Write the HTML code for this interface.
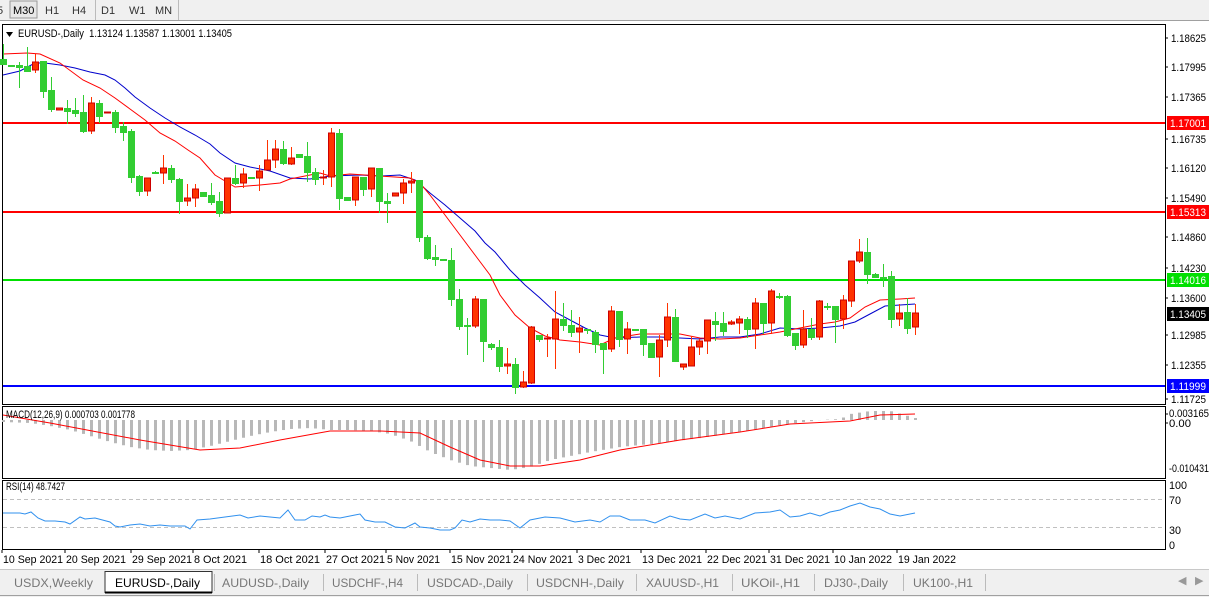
<!DOCTYPE html>
<html><head><meta charset="utf-8"><style>
body{margin:0;width:1209px;height:597px;overflow:hidden;background:#fff;font-family:"Liberation Sans",sans-serif}
svg{display:block}
</style></head><body>
<svg id="s" width="1209" height="597" xmlns="http://www.w3.org/2000/svg" font-family="Liberation Sans, sans-serif" font-size="11">
<rect x="0" y="0" width="1209" height="20" fill="#f0f0f0"/>
<line x1="0" y1="20.5" x2="1209" y2="20.5" stroke="#a0a0a0"/>
<text x="-3" y="14" fill="#333">5</text>
<rect x="10" y="1" width="27" height="17" fill="#e8e8e8" stroke="#999"/>
<text x="13" y="14" fill="#000">M30</text>
<text x="45" y="14" fill="#333">H1</text>
<text x="72" y="14" fill="#333">H4</text>
<line x1="95.5" y1="0" x2="95.5" y2="20" stroke="#bbb"/>
<text x="101" y="14" fill="#333">D1</text>
<text x="129" y="14" fill="#333">W1</text>
<text x="155" y="14" fill="#333">MN</text>
<line x1="178.5" y1="0" x2="178.5" y2="20" stroke="#bbb"/>
<g id="g"></g>
</svg>
<script>
const g=document.getElementById('g');let h='';
function L(x1,y1,x2,y2,c,w){h+=`<line x1="${x1}" y1="${y1}" x2="${x2}" y2="${y2}" stroke="${c}" stroke-width="${w||1}"/>`}
function T(x,y,t,c,a,tl){h+=`<text x="${x}" y="${y}" fill="${c||'#000'}"${a?' text-anchor="'+a+'"':''}${tl?' textLength="'+tl+'" lengthAdjust="spacingAndGlyphs"':''}>${t}</text>`}
h+='<rect x="2.5" y="24.5" width="1163" height="380" fill="#fff" stroke="#000"/>';
h+='<rect x="2.5" y="406.5" width="1163" height="72" fill="#fff" stroke="#000"/>';
h+='<rect x="2.5" y="480.5" width="1163" height="69" fill="#fff" stroke="#000"/>';
L(3,123,1165,123,'#ff0000',2);L(3,212,1165,212,'#ff0000',2);L(3,280,1165,280,'#00e000',2);L(3,386,1165,386,'#0000ff',2);
const lab=[[38,'1.18625'],[67,'1.17995'],[97,'1.17365'],[139,'1.16735'],[168,'1.16120'],[198,'1.15490'],[237,'1.14860'],[268,'1.14230'],[298,'1.13600'],[335,'1.12985'],[365,'1.12355'],[399,'1.11725']];
lab.forEach(a=>{L(1165,a[0],1168,a[0],'#000');T(1171,a[0]+4,a[1],'#000',0,35)});
[[123,'1.17001','#ff0000','#fff'],[212,'1.15313','#ff0000','#fff'],[280,'1.14016','#00e000','#fff'],[314,'1.13405','#000','#fff'],[386,'1.11999','#0000ff','#fff']].forEach(a=>{h+=`<rect x="1167" y="${a[0]-7}" width="42" height="14" fill="${a[2]}"/>`;T(1170,a[0]+4,a[1],a[3],0,36)});
T(18,37,'EURUSD-,Daily&#160;&#160;1.13124 1.13587 1.13001 1.13405','#000',0,214);
h+='<path d="M6 32 L13 32 L9.5 37Z" fill="#000"/>';
const red=[[3,54],[27,53],[40,54],[60,63],[83,80],[100,88],[115,98],[130,109],[145,120],[160,133],[175,141],[188,150],[200,158],[215,175],[225,181],[235,187],[260,185],[280,183],[290,179],[305,176],[320,173],[330,176],[340,175],[350,174],[365,175],[380,176],[395,177],[410,178],[420,183],[430,195],[445,215],[460,235],[475,255],[490,275],[500,295],[515,315],[530,328],[545,336],[560,340],[580,342],[600,345],[615,338],[640,334],[660,334],[680,334],[700,338],[720,339],[740,338],[760,335],[780,332],[800,328],[820,324],[835,322],[850,318],[865,307],[880,300],[900,299],[915,298]];
const blue=[[3,75],[20,71],[35,63],[45,63],[60,65],[75,68],[90,72],[105,75],[115,80],[125,88],[135,97],[150,108],[165,118],[180,127],[195,135],[210,144],[220,153],[235,163],[250,167],[270,171],[290,178],[310,179],[330,176],[360,175],[380,176],[400,175],[415,180],[430,193],[445,205],[460,218],[475,231],[485,243],[495,252],[510,270],[525,285],[540,298],[555,312],[570,320],[585,328],[600,335],[615,338],[640,337],[660,337],[680,338],[700,339],[720,337],[740,337],[760,334],[780,328],[800,329],[820,328],[840,326],[855,322],[870,314],[885,306],[900,305],[915,304]];
function P(a,c,w){h+=`<polyline points="${a.map(p=>p.join(',')).join(' ')}" fill="none" stroke="${c}" stroke-width="${w||1}"/>`}
P(blue,'#0000cc');P(red,'#ff0000');
const C=[[44,59,64,64,'G'],[65,65,66,66,'G'],[62,65,67,88,'G'],[47,66,71,71,'G'],[54,62,70,73,'R'],[61,61,91,98,'G'],[77,90,109,112,'G'],[108,108,110,110,'R'],[100,108,111,124,'G'],[98,110,113,117,'G'],[95,112,131,133,'G'],[97,103,131,134,'R'],[100,103,116,123,'G'],[112,112,113,113,'R'],[110,112,127,133,'G'],[122,126,132,141,'G'],[129,131,177,183,'G'],[175,176,191,196,'G'],[178,178,191,196,'R'],[171,172,173,174,'G'],[155,168,173,184,'R'],[165,168,179,183,'G'],[178,179,201,214,'G'],[184,198,201,206,'R'],[184,189,198,207,'R'],[192,192,196,197,'G'],[183,195,202,205,'G'],[192,201,213,217,'G'],[178,178,213,213,'R'],[165,178,183,185,'G'],[168,174,183,188,'R'],[177,177,178,178,'G'],[165,171,178,191,'R'],[140,160,170,170,'R'],[140,149,160,168,'R'],[141,149,163,165,'G'],[147,158,164,165,'R'],[154,154,157,158,'G'],[142,156,172,182,'G'],[168,172,179,185,'G'],[170,177,178,185,'R'],[128,133,177,187,'R'],[129,133,198,210,'G'],[197,197,200,200,'G'],[177,177,200,206,'R'],[177,177,189,196,'G'],[168,168,189,197,'R'],[168,168,201,213,'G'],[193,201,203,223,'G'],[193,193,196,196,'R'],[179,183,193,204,'R'],[172,181,183,193,'R'],[180,180,237,242,'G'],[235,237,258,260,'G'],[245,257,259,266,'G'],[259,259,260,260,'G'],
[248,260,299,306,'G'],[289,299,326,330,'G'],[318,325,326,355,'G'],[296,299,326,328,'R'],[299,299,341,362,'G'],[343,344,347,350,'G'],[340,347,366,372,'G'],[348,364,366,374,'R'],[358,364,387,394,'G'],[371,382,387,388,'R'],[326,327,383,384,'R'],[335,335,339,342,'G'],[334,338,339,357,'R'],[291,319,339,369,'R'],[303,319,325,331,'G'],[310,325,332,337,'G'],[317,328,332,353,'R'],[329,329,330,334,'G'],[330,332,344,353,'G'],[343,343,349,374,'G'],[306,311,349,352,'R'],[311,311,339,347,'G'],[322,329,339,354,'R'],[329,329,330,330,'G'],[330,329,344,356,'G'],[343,343,357,358,'G'],[335,340,357,377,'R'],[303,317,340,347,'R'],[309,317,361,361,'G'],[364,364,367,370,'R'],[336,347,366,366,'R'],[339,341,347,355,'R'],[321,320,341,354,'R'],[312,321,324,341,'G'],[312,323,331,336,'G'],[320,322,324,325,'R'],[316,319,323,334,'R'],[317,319,329,338,'G'],[298,303,329,349,'R'],[303,303,323,334,'G'],[289,291,323,334,'R'],[293,296,297,299,'G'],[295,296,335,337,'G'],[333,333,345,350,'G'],[310,329,345,348,'R'],[318,329,337,340,'G'],[300,301,337,340,'R'],[303,306,307,310,'G'],[306,306,319,343,'G'],[295,300,319,329,'R'],[261,261,301,307,'R'],[239,252,261,263,'R'],[238,252,274,284,'G'],[273,274,277,278,'G'],[264,277,278,287,'G'],[271,276,319,328,'G'],[304,313,319,326,'R'],[298,312,328,334,'G'],[304,313,327,335,'R']];
C.forEach((c,i)=>{const x=3+i*8;const col=c[4]=='G'?'#32cd32':'#ff3300';
L(x+.5,c[0],x+.5,c[3],col);
let ht=Math.max(c[2]-c[1],1);
if(c[4]=='R')h+=`<rect x="${x-2.5}" y="${c[1]}" width="6" height="${ht}" fill="#ff3300" stroke="#cc0000" stroke-width="1"/>`;
else h+=`<rect x="${x-3}" y="${c[1]}" width="7" height="${ht+1}" fill="#32cd32"/>`;});
const hb=[[3,422],[30,423],[50,426],[70,430],[90,436],[110,442],[130,447],[150,450],[170,451],[190,450],[210,446],[230,441],[250,436],[270,432],[290,429],[310,428],[330,430],[350,430],[370,431],[390,434],[410,441],[430,452],[450,460],[470,466],[490,468],[510,470],[530,467],[550,460],[570,456],[590,452],[620,447],[660,443],[700,438],[740,432],[780,425],[820,420],[840,419],[850,414],[870,411],[890,411],[915,418]];
function ip(a,x){for(let i=0;i<a.length-1;i++){if(x>=a[i][0]&&x<=a[i+1][0]){const t=(x-a[i][0])/(a[i+1][0]-a[i][0]);return a[i][1]+t*(a[i+1][1]-a[i][1])}}return a[a.length-1][1]}
for(let i=0;i<C.length;i++){const x=3+i*8;const v=ip(hb,x);if(v>420)h+=`<rect x="${x-1}" y="420" width="3" height="${v-420}" fill="#b8b8b8"/>`;else h+=`<rect x="${x-1}" y="${v}" width="3" height="${420-v}" fill="#b8b8b8"/>`;}
P([[3,415],[50,423],[140,440],[200,450],[240,448],[280,440],[330,431],[380,431],[420,433],[450,447],[480,460],[510,466],[540,466],[580,460],[620,450],[680,440],[740,432],[790,424],[850,421],[880,415],[915,414]],'#ff0000');
T(6,418,'MACD(12,26,9) 0.000703 0.001778','#000',0,129);
T(1169,417,'0.003165','#000',0,40);T(1169,427,'0.00','#000',0,22);T(1169,472,'-0.010431','#000',0,40);
L(1165,414,1168,414,'#000');L(1165,423,1168,423,'#000');
h+='<line x1="3" y1="499.5" x2="1165" y2="499.5" stroke="#c0c0c0" stroke-dasharray="4,3"/><line x1="3" y1="527.5" x2="1165" y2="527.5" stroke="#c0c0c0" stroke-dasharray="4,3"/>';
P([[3,513],[20,513],[25,514],[31,512],[38,518],[45,521],[55,521],[65,522],[70,524],[80,517],[85,519],[95,518],[110,522],[115,526],[120,527],[130,525],[140,524],[150,526],[160,525],[170,526],[185,526],[190,529],[197,520],[210,519],[225,517],[240,515],[248,518],[260,516],[270,517],[280,518],[288,510],[295,520],[305,520],[312,516],[320,517],[325,515],[330,517],[340,518],[355,515],[360,514],[365,520],[375,522],[385,522],[395,527],[405,528],[415,523],[420,527],[430,528],[440,530],[450,530],[455,528],[462,520],[470,522],[480,519],[490,520],[500,520],[510,521],[520,528],[530,520],[545,517],[560,518],[575,522],[590,520],[600,522],[610,516],[620,516],[630,520],[645,520],[655,523],[670,516],[680,519],[690,520],[705,514],[715,518],[725,516],[740,519],[755,513],[770,512],[780,510],[790,517],[800,516],[810,513],[820,516],[830,512],[840,510],[850,506],[860,503],[870,507],[880,509],[890,514],[900,516],[915,513]],'#3090ee');
T(6,490,'RSI(14) 48.7427','#000',0,59);
[[485,'100',18],[500,'70',12],[530,'30',12],[545,'0',6]].forEach(a=>{T(1169,a[0]+4,a[1],'#000',0,a[2])});
[[2,'10 Sep 2021',60],[65,'20 Sep 2021',60],[131,'29 Sep 2021',60],[193,'8 Oct 2021',53],[259,'18 Oct 2021',60],[325,'27 Oct 2021',59],[386,'5 Nov 2021',53],[450,'15 Nov 2021',60],[512,'24 Nov 2021',60],[577,'3 Dec 2021',53],[641,'13 Dec 2021',60],[706,'22 Dec 2021',60],[769,'31 Dec 2021',60],[833,'10 Jan 2022',58],[897,'19 Jan 2022',58]].forEach(a=>{L(a[0],550,a[0],553,'#000');T(a[0]+1,563,a[1],'#000',0,a[2])});
h+='<rect x="0" y="569" width="1209" height="28" fill="#f0f0f0"/><line x1="0" y1="569.5" x2="1209" y2="569.5" stroke="#c8c8c8"/><line x1="0" y1="595.5" x2="1209" y2="595.5" stroke="#a0a0a0"/>';
h+='<rect x="105" y="571.5" width="107" height="21" fill="#fff" stroke="#333"/><line x1="105" y1="592.5" x2="212" y2="592.5" stroke="#000" stroke-width="2"/>';
h+='<g font-size="12">';
T(14,587,'USDX,Weekly','#777',0,79);T(115,587,'EURUSD-,Daily','#000',0,85);
[[222,'AUDUSD-,Daily',214,87],[332,'USDCHF-,H4',323,71],[427,'USDCAD-,Daily',417,86],[536,'USDCNH-,Daily',527,88],[646,'XAUUSD-,H1',636,73],[741,'UKOil-,H1',732,59],[824,'DJ30-,Daily',814,64],[913,'UK100-,H1',903,60]].forEach(a=>{T(a[0],587,a[1],'#777',0,a[3]);L(a[2]+.5,574,a[2]+.5,591,'#bbb')});
L(985.5,574,985.5,591,'#bbb');
h+='</g>';
T(1178,584,'◀','#999');T(1195,584,'▶','#999');
g.innerHTML=h;
</script>
</body></html>
